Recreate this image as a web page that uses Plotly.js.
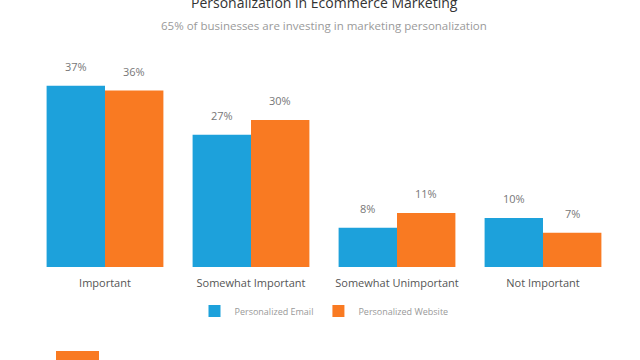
<!DOCTYPE html>
<html>
<head>
<meta charset="utf-8">
<script src="https://cdn.plot.ly/plotly-3.0.1.min.js"></script>
<style>html,body{margin:0;padding:0;background:#fff;}#chart{width:640px;height:360px;}</style>
</head>
<body>
<div id="chart"></div>
<script>
const categories = ["Important", "Somewhat Important", "Somewhat Unimportant", "Not Important"];
const emailValues = [37, 27, 8, 10];
const websiteValues = [36, 30, 11, 7];
const seriesNames = ["Personalized Email", "Personalized Website"];
const titleText = "Personalization in Ecommerce Marketing";
const subtitleText = "65% of businesses are investing in marketing personalization";

const blue = "#1da1db";
const orange = "#f97a22";
const font = "Open Sans, Lato, sans-serif";

const traces = [
  {type: "bar", name: seriesNames[0], x: categories, y: emailValues, marker: {color: blue}, hoverinfo: "none"},
  {type: "bar", name: seriesNames[1], x: categories, y: websiteValues, marker: {color: orange}, hoverinfo: "none"}
];

const annotations = [];
[emailValues, websiteValues].forEach((vals, s) => {
  vals.forEach((v, i) => {
    annotations.push({
      x: i + (s === 0 ? -0.2 : 0.2), y: v, xref: "x", yref: "y",
      text: v + "%", showarrow: false, yanchor: "bottom", yshift: 10,
      font: {family: font, size: 11, color: "#777"}
    });
  });
});
annotations.push({
  x: 0.5, y: 1.35, xref: "paper", yref: "paper", text: titleText, showarrow: false,
  yanchor: "middle", font: {family: font, size: 14, color: "#333"}
});
annotations.push({
  x: 0.5, y: 1.23, xref: "paper", yref: "paper", text: subtitleText, showarrow: false,
  yanchor: "middle", font: {family: font, size: 11.5, color: "#9a9a9a"}
});

const layout = {
  width: 640, height: 360,
  margin: {l: 32, r: 24, t: 71, b: 93},
  paper_bgcolor: "#fff", plot_bgcolor: "#fff",
  barmode: "group", bargap: 0.2, bargroupgap: 0,
  showlegend: true,
  legend: {orientation: "h", x: 0.5, xanchor: "center", y: -0.225, yanchor: "middle",
    font: {family: font, size: 9, color: "#999"}, itemwidth: 30, traceorder: "normal"},
  xaxis: {type: "category", showgrid: false, zeroline: false, showline: false, ticks: "",
    ticklabelstandoff: 8,
    tickfont: {family: font, size: 11, color: "#555"}, fixedrange: true},
  yaxis: {range: [0, 40], visible: false, showgrid: false, zeroline: false, fixedrange: true},
  annotations: annotations,
  shapes: [{type: "rect", xref: "paper", yref: "paper", x0: (56 - 32) / 584, x1: (99 - 32) / 584,
    y0: (267 - 351) / 196, y1: (267 - 362) / 196, fillcolor: orange, line: {width: 0}}],
  font: {family: font}
};

Plotly.newPlot("chart", traces, layout, {displayModeBar: false, staticPlot: true});
</script>
</body>
</html>
